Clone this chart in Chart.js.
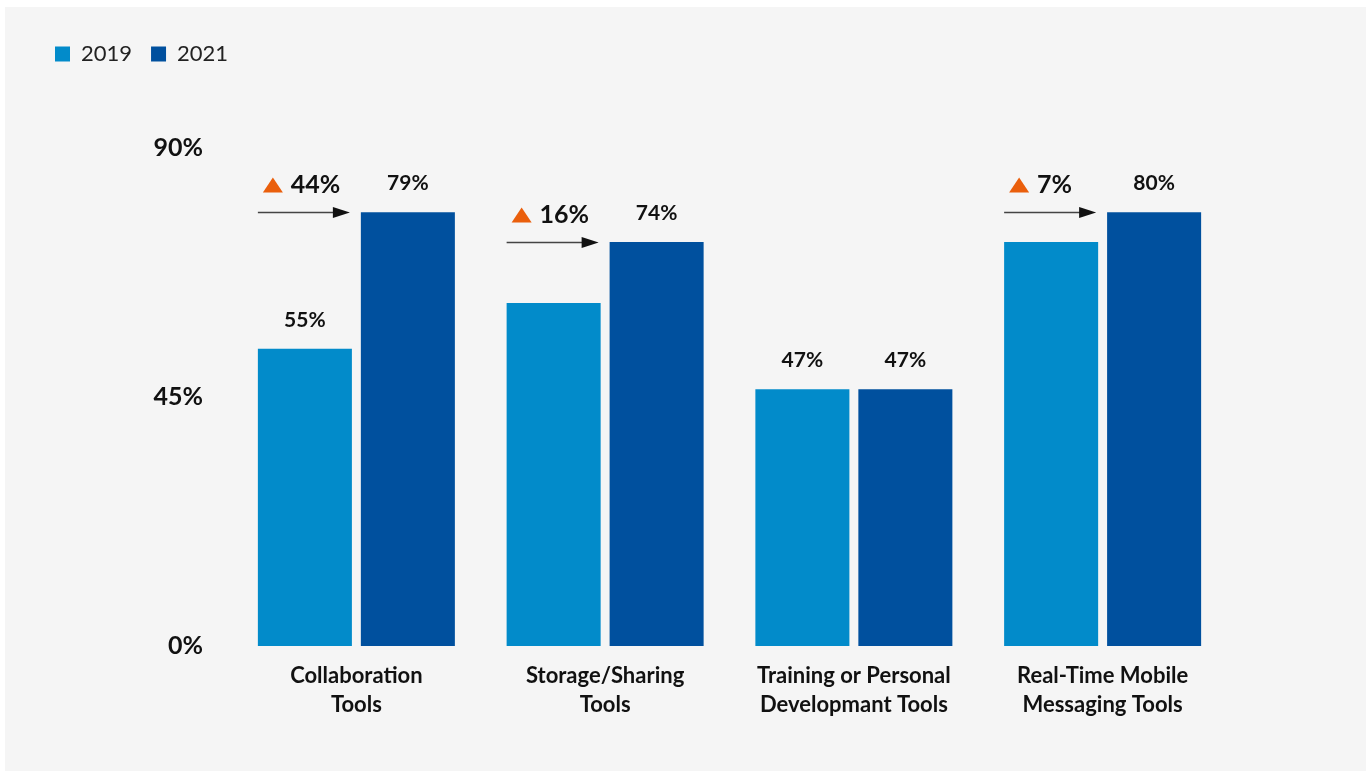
<!DOCTYPE html>
<html>
<head>
<meta charset="utf-8">
<script src="https://cdn.jsdelivr.net/npm/chart.js@4.4.1/dist/chart.umd.min.js"></script>
<style>
    html, body { margin: 0; padding: 0; background: #ffffff; overflow: hidden; }
    #chartBox { width: 1366px; height: 771px; position: relative; }
</style>
</head>
<body>
<div id="chartBox"><canvas id="chart"></canvas></div>
<script>
// categories (two-line tick labels)
const categories = [
    ['Collaboration', 'Tools'],
    ['Storage/Sharing', 'Tools'],
    ['Training or Personal', 'Developmant Tools'],
    ['Real-Time Mobile', 'Messaging Tools']
];

// bar heights
const values2019 = [53.7, 62.0, 46.4, 73.0];
const values2021 = [78.4, 73.0, 46.4, 78.4];

// value labels printed above bars (null = none shown)
const labels2019 = ['55%', null, '47%', null];
const labels2021 = ['79%', '74%', '47%', '80%'];

// growth callouts over the 2019 bars
const growthLabels = ['44%', '16%', null, '7%'];

const yTicks = [0, 45, 90];

const color2019 = '#028bca';
const color2021 = '#00509e';
const fontFamily = 'Lato, "Open Sans", sans-serif';

// grey panel behind everything
const panelBackground = {
    id: 'panelBackground',
    beforeDraw(chart) {
        const ctx = chart.ctx;
        ctx.save();
        ctx.fillStyle = '#f5f5f5';
        ctx.fillRect(5, 7, chart.width - 5, chart.height - 7);
        ctx.restore();
    }
};

// push the plot area down below the legend
const legendSpacing = {
    id: 'legendSpacing',
    beforeInit(chart) {
        if (!chart.legend) return;
        const origFit = chart.legend.fit;
        chart.legend.fit = function () {
            origFit.bind(chart.legend)();
            this.height = 148 - 24;
        };
    }
};

// value labels + growth arrows
const barAnnotations = {
    id: 'barAnnotations',
    afterDatasetsDraw(chart) {
        const ctx = chart.ctx;
        const yScale = chart.scales.y;
        const meta0 = chart.getDatasetMeta(0);
        const meta1 = chart.getDatasetMeta(1);
        ctx.save();
        ctx.textAlign = 'center';
        ctx.textBaseline = 'middle';
        ctx.fillStyle = '#111111';
        ctx.font = 'bold 21px ' + fontFamily;
        [[meta0, labels2019], [meta1, labels2021]].forEach(([meta, texts]) => {
            meta.data.forEach((bar, i) => {
                if (!texts[i]) return;
                ctx.fillText(texts[i], bar.x, bar.y - 29);
            });
        });

        meta0.data.forEach((bar, i) => {
            if (!growthLabels[i]) return;
            const left = bar.x - bar.width / 2;
            const right = bar.x + bar.width / 2;
            const ay = Math.round(yScale.getPixelForValue(values2021[i])) + 0.5;

            // arrow
            ctx.strokeStyle = '#444444';
            ctx.lineWidth = 1.5;
            ctx.beginPath();
            ctx.moveTo(left, ay);
            ctx.lineTo(right - 16, ay);
            ctx.stroke();
            ctx.fillStyle = '#111111';
            ctx.beginPath();
            ctx.moveTo(right - 19, ay - 5.5);
            ctx.lineTo(right - 2, ay);
            ctx.lineTo(right - 19, ay + 5.5);
            ctx.closePath();
            ctx.fill();

            // orange triangle
            ctx.fillStyle = '#ea5f0c';
            ctx.beginPath();
            ctx.moveTo(left + 5, ay - 20);
            ctx.lineTo(left + 25, ay - 20);
            ctx.lineTo(left + 15, ay - 35);
            ctx.closePath();
            ctx.fill();

            ctx.fillStyle = '#111111';
            ctx.font = 'bold 25px ' + fontFamily;
            ctx.textAlign = 'left';
            ctx.fillText(growthLabels[i], left + 33, ay - 28);
        });
        ctx.restore();
    }
};

const ctx = document.getElementById('chart').getContext('2d');
new Chart(ctx, {
    type: 'bar',
    data: {
        labels: categories,
        datasets: [
            { label: '2019', data: values2019, backgroundColor: color2019, borderWidth: 0 },
            { label: '2021', data: values2021, backgroundColor: color2021, borderWidth: 0 }
        ]
    },
    options: {
        responsive: true,
        maintainAspectRatio: false,
        animation: false,
        categoryPercentage: 0.828,
        barPercentage: 0.913,
        layout: { padding: { left: 36, right: 139, top: 24, bottom: 0 } },
        plugins: {
            legend: {
                position: 'top',
                align: 'start',
                labels: {
                    boxWidth: 15,
                    boxHeight: 15,
                    padding: 19,
                    color: '#222222',
                    font: { family: fontFamily, size: 22, weight: 'normal' }
                }
            },
            tooltip: { enabled: false }
        },
        scales: {
            x: {
                grid: { display: false, drawTicks: false },
                border: { display: false },
                ticks: {
                    padding: 15,
                    color: '#111111',
                    font: { family: fontFamily, size: 22, weight: 'bold', lineHeight: 1.32 }
                },
                afterFit(scale) { scale.height = 771 - 646; }
            },
            y: {
                min: 0,
                max: 90,
                afterBuildTicks(scale) {
                    scale.ticks = yTicks.map(v => ({ value: v }));
                },
                grid: { display: false, drawTicks: false },
                border: { display: false },
                ticks: {
                    padding: 29,
                    color: '#111111',
                    font: { family: fontFamily, size: 25, weight: 'bold' },
                    callback: v => v + '%'
                },
                afterFit(scale) { scale.width = 196; }
            }
        }
    },
    plugins: [panelBackground, legendSpacing, barAnnotations]
});
</script>
</body>
</html>
